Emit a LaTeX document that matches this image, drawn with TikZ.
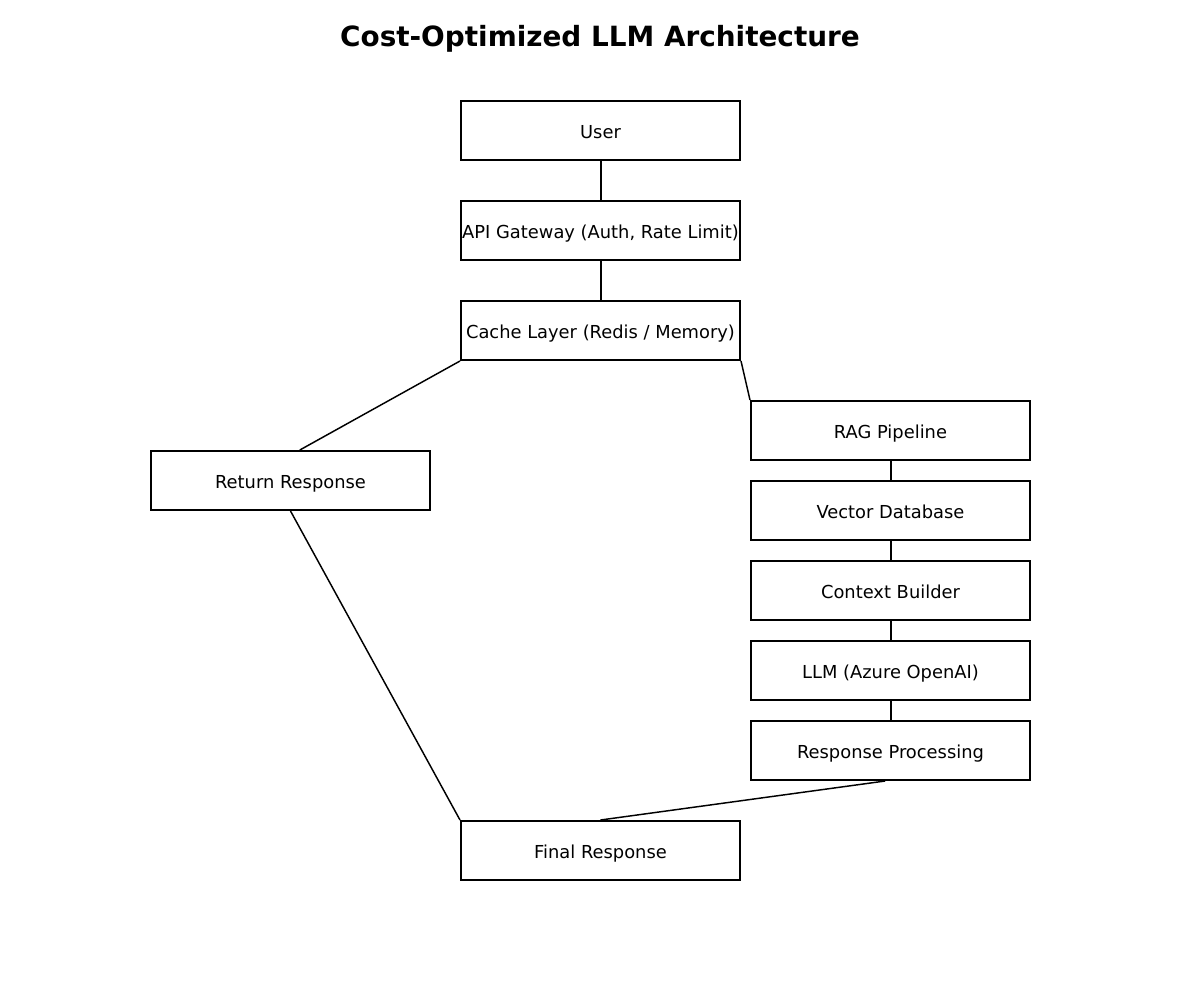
\documentclass[tikz,border=0pt]{standalone}
\usepackage{fontspec}
\setmainfont{DejaVu Sans}

\begin{document}
\begin{tikzpicture}[x=0.75pt,y=-0.75pt]
  \tikzstyle{block}=[draw,rectangle,line width=1.5pt,minimum width=209.25pt,minimum height=44.25pt,inner sep=0pt,text height=1.2em,text depth=0pt,font=\fontsize{13.4}{16}\selectfont]
  \tikzstyle{link}=[line width=1.1pt]
  \tikzstyle{stem}=[line width=1.5pt]
  \useasboundingbox (0,0) rectangle (1200,1000);
  \node[font=\bfseries\fontsize{20.9}{24}\selectfont] (title) at (600,38.5) {Cost-Optimized LLM Architecture};

  \node[block] (N_user)  at (600.5,130.5) {User};
  \node[block] (N_api)   at (600.5,230.5) {API Gateway (Auth, Rate Limit)};
  \node[block] (N_cache) at (600.5,330.5) {Cache Layer (Redis / Memory)};
  \node[block] (N_ret)   at (290.5,480.5) {Return Response};
  \node[block] (N_rag)   at (890.5,430.5) {RAG Pipeline};
  \node[block] (N_vec)   at (890.5,510.5) {Vector Database};
  \node[block] (N_ctx)   at (890.5,590.5) {Context Builder};
  \node[block] (N_llm)   at (890.5,670.5) {LLM (Azure OpenAI)};
  \node[block] (N_proc)  at (890.5,750.5) {Response Processing};
  \node[block] (N_fin)   at (600.5,850.5) {Final Response};

  \draw[stem] (N_user) -- (N_api);
  \draw[stem] (N_api) -- (N_cache);
  \draw[link] (N_cache.south west) -- ([xshift=7pt]N_ret.north);
  \draw[link] (N_cache.south east) -- (N_rag.north west);
  \draw[stem] (N_rag) -- (N_vec);
  \draw[stem] (N_vec) -- (N_ctx);
  \draw[stem] (N_ctx) -- (N_llm);
  \draw[stem] (N_llm) -- (N_proc);
  \draw[link] ([xshift=-4pt]N_proc.south) -- (N_fin.north);
  \draw[link] (N_ret.south) -- (N_fin.north west);
\end{tikzpicture}
\end{document}
